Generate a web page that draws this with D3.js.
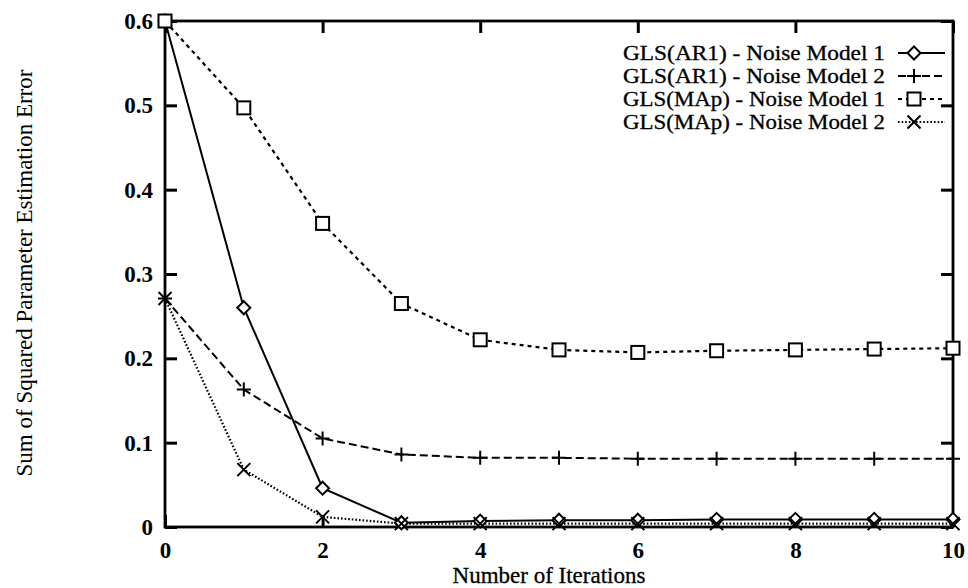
<!DOCTYPE html>
<html><head><meta charset="utf-8">
<script src="https://cdn.jsdelivr.net/npm/d3@7"></script>
<style>body{margin:0;background:#fff}svg{display:block}text{font-family:"Liberation Serif","Times New Roman",serif;fill:#000}</style>
</head><body>
<svg id="c" width="968" height="588"></svg>
<script>
const iterations = [0,1,2,3,4,5,6,7,8,9,10];
const ar1Noise1 = [0.600,0.260,0.046,0.005,0.007,0.008,0.008,0.009,0.009,0.009,0.009];
const ar1Noise2 = [0.271,0.163,0.105,0.086,0.082,0.082,0.081,0.081,0.081,0.081,0.081];
const mapNoise1 = [0.600,0.497,0.360,0.265,0.222,0.210,0.207,0.209,0.210,0.211,0.212];
const mapNoise2 = [0.271,0.068,0.012,0.004,0.004,0.004,0.004,0.004,0.004,0.004,0.004];
const seriesNames = ["GLS(AR1) - Noise Model 1","GLS(AR1) - Noise Model 2","GLS(MAp) - Noise Model 1","GLS(MAp) - Noise Model 2"];
const xTicks = [0,2,4,6,8,10];
const yTicks = [0,0.1,0.2,0.3,0.4,0.5,0.6];
const yTickLabels = ["0","0.1","0.2","0.3","0.4","0.5","0.6"];

const series = [
  {name:seriesNames[0], values:ar1Noise1, dash:null, marker:"diamond", w:2},
  {name:seriesNames[1], values:ar1Noise2, dash:"8,4", marker:"plus", w:2},
  {name:seriesNames[2], values:mapNoise1, dash:"4,4", marker:"square", w:2.2},
  {name:seriesNames[3], values:mapNoise2, dash:"1.6,2", marker:"cross", w:2.2}
];

const svg = d3.select("#c");
const L=165,R=953,T=21,B=527;
const x = d3.scaleLinear().domain([0,10]).range([L,R]);
const y = d3.scaleLinear().domain([0,0.6]).range([B,T]);

function drawMarker(g, type, cx, cy){
  if(type==="diamond"){
    g.append("path").attr("d",`M${cx},${cy-6.5}L${cx+6.5},${cy}L${cx},${cy+6.5}L${cx-6.5},${cy}Z`)
      .attr("fill","#fff").attr("stroke","#000").attr("stroke-width",2);
  } else if(type==="square"){
    g.append("rect").attr("x",cx-6.5).attr("y",cy-6.5).attr("width",13).attr("height",13)
      .attr("fill","#fff").attr("stroke","#000").attr("stroke-width",2);
  } else if(type==="plus"){
    g.append("path").attr("d",`M${cx-7},${cy}H${cx+7}M${cx},${cy-7}V${cy+7}`)
      .attr("stroke","#000").attr("stroke-width",2);
  } else {
    g.append("path").attr("d",`M${cx-6.5},${cy-6.5}L${cx+6.5},${cy+6.5}M${cx-6.5},${cy+6.5}L${cx+6.5},${cy-6.5}`)
      .attr("stroke","#000").attr("stroke-width",2);
  }
}

// frame
svg.append("rect").attr("x",L).attr("y",T).attr("width",R-L).attr("height",B-T)
  .attr("fill","none").attr("stroke","#000").attr("stroke-width",2.8);

// axes with inward ticks
const yAxisL = d3.axisLeft(y).tickValues(yTicks).tickFormat((d,i)=>yTickLabels[i]).tickSizeInner(-12).tickSizeOuter(0).tickPadding(12);
const gyl = svg.append("g").attr("transform",`translate(${L},0)`).call(yAxisL);
const yAxisR = d3.axisRight(y).tickValues(yTicks).tickFormat("").tickSizeInner(-12).tickSizeOuter(0);
const gyr = svg.append("g").attr("transform",`translate(${R},0)`).call(yAxisR);
const xAxisB = d3.axisBottom(x).tickValues(xTicks).tickFormat(d3.format("d")).tickSizeInner(-12).tickSizeOuter(0).tickPadding(15);
const gxb = svg.append("g").attr("transform",`translate(0,${B})`).call(xAxisB);
const xAxisT = d3.axisTop(x).tickValues(xTicks).tickFormat("").tickSizeInner(-12).tickSizeOuter(0);
const gxt = svg.append("g").attr("transform",`translate(0,${T})`).call(xAxisT);
[gyl,gyr,gxb,gxt].forEach(g=>{
  g.select(".domain").remove();
  g.selectAll(".tick line").attr("stroke","#000").attr("stroke-width",3);
  g.selectAll(".tick text").attr("font-size",23).attr("font-weight","bold")
    .style("font-family","'Liberation Serif',serif");
});

// lines
const line = d3.line().x((d,i)=>x(iterations[i])).y(d=>y(d));
series.forEach(s=>{
  svg.append("path").datum(s.values).attr("d",line).attr("fill","none")
    .attr("stroke","#000").attr("stroke-width",s.w)
    .attr("stroke-dasharray",s.dash);
});
series.forEach(s=>{
  const g = svg.append("g");
  s.values.forEach((v,i)=>drawMarker(g,s.marker,x(iterations[i]),y(v)));
});

// legend
const legendY = [53,76,99,122];
series.forEach((s,i)=>{
  const ly = legendY[i];
  svg.append("text").attr("x",885).attr("y",ly).attr("dy","0.33em").attr("text-anchor","end")
    .attr("font-size",20).attr("stroke","#000").attr("stroke-width",0.3)
    .attr("textLength",262).attr("lengthAdjust","spacingAndGlyphs").text(s.name);
  svg.append("line").attr("x1",898).attr("x2",945).attr("y1",ly).attr("y2",ly)
    .attr("stroke","#000").attr("stroke-width",s.w).attr("stroke-dasharray",s.dash);
  drawMarker(svg.append("g"),s.marker,914,ly);
});

// axis titles
svg.append("text").attr("x",549).attr("y",583).attr("text-anchor","middle").attr("font-size",23)
  .attr("stroke","#000").attr("stroke-width",0.3).text("Number of Iterations");
svg.append("text").attr("transform",`translate(32,273) rotate(-90)`).attr("text-anchor","middle").attr("font-size",23)
  .text("Sum of Squared Parameter Estimation Error");
</script>
</body></html>
